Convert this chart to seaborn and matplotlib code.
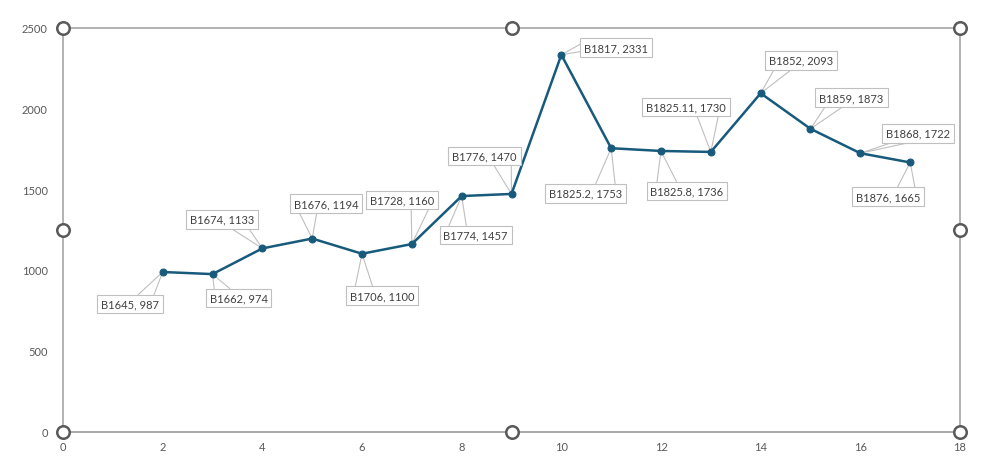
import matplotlib
matplotlib.use('Agg')
import matplotlib.pyplot as plt
import seaborn as sns
import pandas as pd
import numpy as np

# data
x_vals = [2, 3, 4, 5, 6, 7, 8, 9, 10, 11, 12, 13, 14, 15, 16, 17]
y_vals = [987, 974, 1133, 1194, 1100, 1160, 1457, 1470, 2331, 1753, 1736, 1730, 2093, 1873, 1722, 1665]
names = ['B1645', 'B1662', 'B1674', 'B1676', 'B1706', 'B1728', 'B1774', 'B1776',
         'B1817', 'B1825.2', 'B1825.8', 'B1825.11', 'B1852', 'B1859', 'B1868', 'B1876']

# label offsets in pixels (dx right, dy down)
label_offsets = [(-33, 32), (26, 24), (-40, -29), (14, -35), (20, 42), (-10, -44),
                 (14, 39), (-27, -38), (55, -7), (-26, 45), (26, 40), (-25, -45),
                 (40, -33), (41, -31), (58, -20), (-22, 34)]

df = pd.DataFrame({'x': x_vals, 'y': y_vals, 'name': names})

sns.set_style('white')
plt.rcParams['font.family'] = ['Lato', 'DejaVu Sans']

fig = plt.figure(figsize=(9.83, 4.64), dpi=100)
ax = fig.add_axes([0.0641, 1 - 432.5 / 464, 0.9766 - 0.0641, (432.5 - 28.5) / 464])

line_color = '#175a7c'
sns.lineplot(data=df, x='x', y='y', ax=ax, color=line_color, linewidth=1.8,
             marker='o', markersize=5, markeredgecolor=line_color, zorder=3)

ax.set_xlim(0, 18)
ax.set_ylim(0, 2500)
ax.set_xticks(range(0, 19, 2))
ax.set_yticks(range(0, 2501, 500))
ax.set_xlabel('')
ax.set_ylabel('')
ax.tick_params(axis='both', labelsize=8, colors='#595959', length=3, width=0.8)
ax.tick_params(axis='y', length=0, pad=11)
ax.tick_params(axis='x', direction='out', color='#bfbfbf')
for side, sp in ax.spines.items():
    sp.set_color('#a6a6a6')
    sp.set_linewidth(1.2)
ax.spines['bottom'].set_color('#999999')

anns = []
for xv, yv, nm, (dx, dy) in zip(x_vals, y_vals, names, label_offsets):
    a = ax.annotate(f'{nm}, {yv}', xy=(xv, yv), xytext=(dx * 0.72, -dy * 0.72),
                    textcoords='offset points', ha='center', va='center',
                    fontsize=8, color='#404040',
                    bbox=dict(boxstyle='square,pad=0.35', fc='white', ec='#bfbfbf', lw=0.8),
                    zorder=4)
    anns.append(a)

# callout leader lines: two thin lines from the box edge to the point
fig.canvas.draw()
inv = ax.transData.inverted()
for a, xv, yv, (dx, dy) in zip(anns, x_vals, y_vals, label_offsets):
    bb = a.get_bbox_patch().get_window_extent()
    if abs(dx) > 3 * abs(dy):
        ex = bb.x0 if dx > 0 else bb.x1
        starts = [(ex, bb.y0 + 0.3 * bb.height), (ex, bb.y0 + 0.7 * bb.height)]
    else:
        ey = bb.y1 if dy > 0 else bb.y0
        base = 0.5 - 0.25 * np.sign(dx)
        starts = [(bb.x0 + (base - 0.12) * bb.width, ey), (bb.x0 + (base + 0.12) * bb.width, ey)]
    for sx, sy in starts:
        p = inv.transform((sx, sy))
        ax.plot([p[0], xv], [p[1], yv], color='#bfbfbf', lw=0.8, zorder=2, clip_on=False)

# selection handles on the plot frame
hx = [0, 0.5, 1, 0, 1, 0, 0.5, 1]
hy = [0, 0, 0, 0.5, 0.5, 1, 1, 1]
ax.plot(hx, hy, 'o', transform=ax.transAxes, clip_on=False, markersize=9,
        markerfacecolor='white', markeredgecolor='#595959', markeredgewidth=1.8, zorder=6)

fig.savefig('out.png', dpi=100)
